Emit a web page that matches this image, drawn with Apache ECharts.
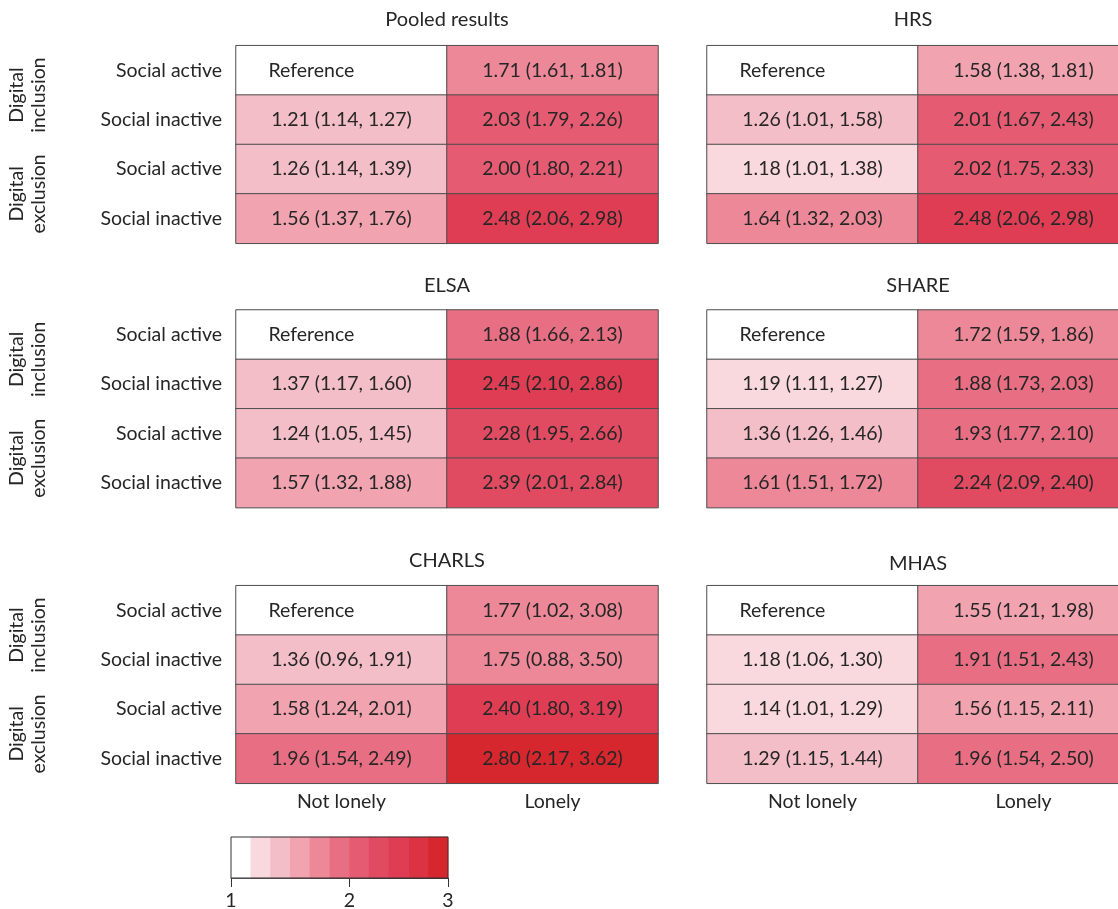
<!DOCTYPE html>
<html>
<head>
<meta charset="utf-8">
<script src="https://cdn.jsdelivr.net/npm/echarts@6/dist/echarts.min.js"></script>
<style>
  html, body { margin: 0; padding: 0; background: #fff; }
  #main { width: 1118px; height: 909px; }
</style>
</head>
<body>
<div id="main"></div>
<script>
// categories
var colLabels = ['Not lonely', 'Lonely'];
var rowLabels = ['Social active', 'Social inactive', 'Social active', 'Social inactive'];
var groupLabels = ['Digital\ninclusion', 'Digital\nexclusion'];
var panelTitles = ['Pooled results', 'HRS', 'ELSA', 'SHARE', 'CHARLS', 'MHAS'];

// odds ratios row by row: [not lonely, lonely], reference = 1
var pooledOR = [1, 1.71, 1.21, 2.03, 1.26, 2.00, 1.56, 2.48];
var pooledLo = [null, 1.61, 1.14, 1.79, 1.14, 1.80, 1.37, 2.06];
var pooledHi = [null, 1.81, 1.27, 2.26, 1.39, 2.21, 1.76, 2.98];

var hrsOR = [1, 1.58, 1.26, 2.01, 1.18, 2.02, 1.64, 2.48];
var hrsLo = [null, 1.38, 1.01, 1.67, 1.01, 1.75, 1.32, 2.06];
var hrsHi = [null, 1.81, 1.58, 2.43, 1.38, 2.33, 2.03, 2.98];

var elsaOR = [1, 1.88, 1.37, 2.45, 1.24, 2.28, 1.57, 2.39];
var elsaLo = [null, 1.66, 1.17, 2.10, 1.05, 1.95, 1.32, 2.01];
var elsaHi = [null, 2.13, 1.60, 2.86, 1.45, 2.66, 1.88, 2.84];

var shareOR = [1, 1.72, 1.19, 1.88, 1.36, 1.93, 1.61, 2.24];
var shareLo = [null, 1.59, 1.11, 1.73, 1.26, 1.77, 1.51, 2.09];
var shareHi = [null, 1.86, 1.27, 2.03, 1.46, 2.10, 1.72, 2.40];

var charlsOR = [1, 1.77, 1.36, 1.75, 1.58, 2.40, 1.96, 2.80];
var charlsLo = [null, 1.02, 0.96, 0.88, 1.24, 1.80, 1.54, 2.17];
var charlsHi = [null, 3.08, 1.91, 3.50, 2.01, 3.19, 2.49, 3.62];

var mhasOR = [1, 1.55, 1.18, 1.91, 1.14, 1.56, 1.29, 1.96];
var mhasLo = [null, 1.21, 1.06, 1.51, 1.01, 1.15, 1.15, 1.54];
var mhasHi = [null, 1.98, 1.30, 2.43, 1.29, 2.11, 1.44, 2.50];

// colour scale: white for reference, then bins of 0.2 from 1 to 3
var binEdges = [1.0, 1.2, 1.4, 1.6, 1.8, 2.0, 2.2, 2.4, 2.6, 2.8, 3.0];
var binColors = ['#ffffff', '#f9d8de', '#f4bec8', '#f1a3b0', '#ed8898', '#e86f83',
                 '#e55b72', '#e14b62', '#de3d53', '#db3244', '#d6272f'];
var legendValues = [1.0, 1.1, 1.3, 1.5, 1.7, 1.9, 2.1, 2.3, 2.5, 2.7, 2.9];
var legendTickAt = [0, 6, 11];
var legendTickLabels = ['1', '2', '3'];

var panels = [
  { or: pooledOR, lo: pooledLo, hi: pooledHi },
  { or: hrsOR, lo: hrsLo, hi: hrsHi },
  { or: elsaOR, lo: elsaLo, hi: elsaHi },
  { or: shareOR, lo: shareLo, hi: shareHi },
  { or: charlsOR, lo: charlsLo, hi: charlsHi },
  { or: mhasOR, lo: mhasLo, hi: mhasHi }
];

var font = 'Lato';
var fs = 19.5;
var ink = '#262626';

// layout (right column runs past the canvas edge like the original)
var colLeft = [236, 707];
var gridW = 422;
var rowTop = [45.7, 310, 585.7];
var gridH = 197.6;
var titleX = [447, 913, 447, 918, 447, 918];
var titleY = [22, 22, 288, 288, 563, 566];

var grids = [], xAxes = [], yAxes = [], series = [], titles = [];

function fmt(v) { return v.toFixed(2); }

panels.forEach(function (p, k) {
  var col = k % 2, row = Math.floor(k / 2);
  grids.push({ left: colLeft[col], width: gridW, top: rowTop[row], height: gridH, outerBoundsMode: 'none' });
  xAxes.push({
    type: 'category', gridIndex: k, data: colLabels, position: 'bottom',
    axisLine: { show: false }, axisTick: { show: false }, splitLine: { show: false },
    axisLabel: { show: row === 2, interval: 0, margin: 8, fontSize: fs, fontFamily: font, color: ink }
  });
  yAxes.push({
    type: 'category', gridIndex: k, data: rowLabels, inverse: true,
    axisLine: { show: false }, axisTick: { show: false }, splitLine: { show: false },
    axisLabel: { show: col === 0, interval: 0, margin: 14, fontSize: fs, fontFamily: font, color: ink }
  });
  titles.push({
    text: panelTitles[k], left: titleX[k], top: titleY[k] - 12, textAlign: 'center', padding: 0,
    textStyle: { fontSize: 20, fontWeight: 'normal', fontFamily: font, color: ink }
  });
  series.push({
    type: 'heatmap', xAxisIndex: k, yAxisIndex: k,
    data: p.or.map(function (v, i) {
      var item = { value: [i % 2, Math.floor(i / 2), v] };
      if (p.lo[i] == null) item.label = { align: 'left', offset: [-73, 0] };
      return item;
    }),
    label: {
      show: true, fontSize: fs, fontFamily: font, color: ink,
      formatter: function (params) {
        var i = params.dataIndex;
        if (p.lo[i] == null) return 'Reference';
        return fmt(p.or[i]) + ' (' + fmt(p.lo[i]) + ', ' + fmt(p.hi[i]) + ')';
      }
    },
    itemStyle: { borderColor: '#4d4d4d', borderWidth: 1 },
    emphasis: { disabled: true }
  });
});

// group labels on left column panels
[0, 2, 4].forEach(function (k) {
  yAxes.push({
    type: 'category', gridIndex: k, data: groupLabels, inverse: true, position: 'left', offset: 178,
    axisLine: { show: false }, axisTick: { show: false }, splitLine: { show: false },
    axisLabel: { rotate: 90, interval: 0, margin: 8, lineHeight: 22, fontSize: fs, fontFamily: font, color: ink }
  });
});

// colour legend
var lg = grids.length;
grids.push({ left: 231, top: 837, width: 217, height: 41, show: true, borderColor: '#333', borderWidth: 1, z: 10, outerBoundsMode: 'none' });
var lxCat = xAxes.length;
xAxes.push({
  type: 'category', gridIndex: lg, data: legendValues.map(String), show: false
});
var lxVal = xAxes.length;
xAxes.push({
  type: 'value', gridIndex: lg, min: 0, max: 11, position: 'bottom',
  splitLine: { show: false },
  axisLine: { show: true, lineStyle: { color: '#333' } },
  axisTick: { show: true, customValues: legendTickAt, length: 9, lineStyle: { color: '#333' } },
  axisLabel: {
    customValues: legendTickAt, margin: 13, fontSize: fs, fontFamily: font, color: ink,
    formatter: function (v) { return legendTickLabels[legendTickAt.indexOf(v)]; }
  }
});
var ly = yAxes.length;
yAxes.push({ type: 'category', gridIndex: lg, data: [''], show: false });
series.push({
  type: 'heatmap', xAxisIndex: lxCat, yAxisIndex: ly,
  data: legendValues.map(function (v, i) { return [i, 0, v]; }),
  itemStyle: { borderWidth: 0 },
  emphasis: { disabled: true }
});

// piecewise colour mapping
var pieces = [{ lte: binEdges[0], color: binColors[0] }];
for (var i = 1; i < binEdges.length; i++) {
  var pc = { color: binColors[i] };
  pc.gt = binEdges[i - 1];
  if (i < binEdges.length - 1) pc.lt = binEdges[i];
  pieces.push(pc);
}

var chart = echarts.init(document.getElementById('main'));
chart.setOption({
  backgroundColor: '#fff',
  animation: false,
  title: titles,
  grid: grids,
  xAxis: xAxes,
  yAxis: yAxes,
  visualMap: { type: 'piecewise', show: false, dimension: 2, pieces: pieces },
  series: series
});
</script>
</body>
</html>
